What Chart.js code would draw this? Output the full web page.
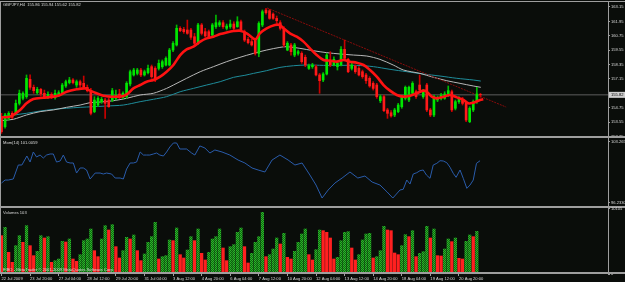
<!DOCTYPE html>
<html>
<head>
<meta charset="utf-8">
<script src="https://cdn.jsdelivr.net/npm/chart.js@4.4.1/dist/chart.umd.min.js"></script>
<style>
  html, body { margin: 0; padding: 0; background: #0a0d0a; }
  #wrap { position: relative; width: 625px; height: 282px; overflow: hidden; background: #0a0d0a; }
  #wrap canvas { position: absolute; left: 0; top: 0; }
</style>
</head>
<body>
<div id="wrap">
  <canvas id="priceChart" width="625" height="282"></canvas>
  <canvas id="momChart" width="625" height="282"></canvas>
  <canvas id="volChart" width="625" height="282"></canvas>
</div>
<script>
// GBPJPY H4 candles, bar 0 = 22 Jul 2009 12:00
const openP = [154.00,153.17,153.86,154.28,154.28,155.11,155.53,155.67,157.11,156.45,
  156.00,156.28,155.95,155.61,155.86,155.58,155.81,155.89,156.56,156.84,
  157.06,156.64,156.92,156.78,156.45,156.17,154.42,154.97,155.25,155.39,
  155.39,155.39,155.53,155.89,155.61,155.67,156.73,157.48,157.61,157.89,
  157.48,157.67,158.17,158.03,158.03,158.17,158.31,158.31,159.56,159.98,
  161.37,161.28,161.23,161.23,160.67,160.12,161.65,161.09,161.09,160.81,
  161.51,161.65,161.84,161.37,161.51,161.73,161.51,161.92,161.09,160.45,
  160.26,160.39,159.28,161.65,162.90,162.84,162.56,162.20,161.84,161.37,
  159.56,159.98,159.14,159.28,159.28,158.95,158.03,158.17,158.17,157.48,
  157.06,157.56,158.73,158.31,158.17,158.31,159.62,158.78,158.03,158.23,
  158.03,157.75,157.48,157.20,156.78,156.64,155.33,155.67,154.56,154.33,
  154.14,154.42,154.83,155.53,155.39,155.95,156.08,156.64,155.67,156.64,
  154.56,154.14,155.39,155.53,155.53,155.81,156.08,154.70,155.25,155.45,
  155.17,153.58,154.56,155.25,155.86];
const highP = [154.28,154.28,154.42,154.42,155.39,156.22,156.08,157.48,157.48,156.64,
  156.45,156.36,156.22,156.08,156.00,156.22,156.17,156.78,157.06,157.28,
  157.17,157.06,157.06,157.39,156.64,156.36,155.67,155.67,155.61,155.53,
  155.53,156.36,156.22,156.28,156.08,156.92,157.89,158.03,158.03,158.03,
  157.89,158.31,158.31,158.17,158.73,158.73,159.00,159.70,160.26,161.65,
  161.51,161.45,162.06,161.37,160.95,161.78,161.78,161.37,161.23,161.78,
  162.48,162.01,162.01,161.73,162.06,161.92,162.34,162.06,161.23,160.62,
  160.45,160.53,161.92,162.90,163.03,162.95,162.67,162.40,162.01,161.51,
  160.26,160.12,160.12,159.56,159.42,159.14,158.39,158.45,158.31,157.61,
  157.67,159.28,159.42,159.00,158.59,159.84,160.39,158.87,158.45,158.31,
  158.17,157.89,157.61,157.34,156.92,156.78,155.81,155.81,154.70,154.50,
  154.70,155.11,155.81,156.56,156.56,156.92,156.22,157.48,156.28,156.78,
  154.70,155.81,155.72,155.95,156.08,156.56,156.22,155.39,155.67,155.61,
  155.25,154.83,155.39,156.45,155.94];
const lowP = [152.61,153.03,153.72,153.83,154.14,154.97,155.39,155.53,156.28,155.95,
  155.86,155.72,155.58,155.50,155.50,155.47,155.67,155.81,156.45,156.73,
  156.73,156.45,156.45,156.34,156.06,154.14,154.33,154.83,155.11,153.86,
  154.78,155.25,155.39,155.50,155.50,155.53,156.56,157.39,157.48,157.34,
  157.39,157.56,157.20,156.92,157.89,158.03,158.23,158.23,159.42,159.89,
  161.09,160.95,160.87,160.45,159.98,160.03,160.81,160.62,160.62,160.73,
  161.37,161.51,161.37,161.23,161.37,161.23,161.45,161.09,160.26,160.06,
  159.89,159.14,159.00,161.51,162.56,162.12,162.12,161.78,161.23,159.84,
  159.50,159.14,159.00,159.14,158.45,158.17,157.95,158.03,157.39,155.95,
  156.92,157.48,158.17,158.23,157.89,158.23,158.73,157.67,157.89,157.61,
  157.39,157.20,156.78,156.45,156.22,155.53,155.17,154.42,153.86,153.95,
  154.00,154.33,154.70,155.39,155.25,155.81,155.53,156.08,155.53,154.42,
  154.00,154.00,155.25,155.39,155.45,155.67,154.42,154.56,155.11,154.97,
  153.58,153.50,154.42,155.11,155.62];
const closeP = [152.75,154.14,154.28,153.95,155.11,155.95,155.95,157.20,156.45,156.17,
  156.28,155.89,155.67,155.86,155.58,155.95,156.00,156.64,156.92,157.06,
  156.84,156.92,156.64,156.45,156.17,154.28,155.39,155.53,155.45,155.11,
  154.83,156.17,155.81,155.61,155.95,156.78,157.75,157.89,157.89,157.48,
  157.75,158.03,157.34,157.06,158.45,158.59,158.87,159.56,160.12,161.37,
  161.17,161.09,160.95,160.62,160.12,161.65,160.95,160.73,160.67,161.65,
  161.84,161.84,161.51,161.56,161.73,161.37,161.92,161.23,160.39,160.17,
  159.98,159.28,161.78,162.76,162.67,162.20,162.20,162.01,161.37,159.98,
  160.12,159.42,159.98,159.42,158.59,158.31,158.25,158.31,157.48,157.00,
  157.56,159.14,158.31,158.78,158.45,159.62,158.87,157.75,158.31,157.75,
  157.48,157.34,157.00,156.56,156.36,155.67,155.67,154.50,154.28,154.06,
  154.56,154.97,155.67,156.45,156.45,156.78,155.67,156.22,156.17,154.56,
  154.14,155.67,155.61,155.81,155.89,156.17,154.56,155.25,155.53,155.11,
  153.72,154.70,155.25,155.89,155.82];

const volumes = [5942,7234,3359,1808,4392,5942,4909,7492,4392,2842,
  3514,5942,5580,5787,1808,2067,2325,5063,4960,5425,
  2325,1963,2997,5167,5425,6975,3617,2687,5425,7492,
  6820,7647,4237,2480,3617,5684,5425,6045,3617,2067,
  3100,4909,5787,8009,2325,2687,2842,5270,5167,7130,
  2997,2480,3720,5787,5167,6975,3204,2170,3359,5425,
  5787,6975,4030,2067,4237,4547,6459,7130,4237,1705,
  3204,4909,5787,9559,2687,2997,3875,5580,4650,6304,
  2584,2325,3514,4909,6200,6975,2997,2170,3772,6820,
  6717,6459,5580,2325,2584,5167,6459,6562,4030,2170,
  2997,5270,6200,6304,2480,2687,3617,7389,6820,6717,
  3255,2997,4392,6097,5787,6717,2687,3204,3462,7389,
  5580,6975,2842,2790,3875,5425,5012,5580,2429,2325,
  5063,6045,5787,6614,103];

// moving averages (bar position, price)
const redMaX = [0,2.4,5.2,7,8.9,11.7,14.5,16.4,18.2,21,23.4,24.8,26.6,28.5,30.4,32.2,34.1,35.5,36.9,38.8,
  40.6,42.5,44.4,46.2,48.1,50,51.8,53.7,55.6,57.4,59.3,61.2,63,64.9,66.7,68.6,71,72.3,74.2,76.5,
  77.9,78.9,80.7,82.6,84.5,86.3,88.2,90.1,91.9,93.8,95.7,97.5,99.4,101.3,103.1,105,106.9,108.7,110.6,112.4,
  114.3,116.2,118,119,120.4,121.8,123.7,125.5,127.4,129.3,130.6,132,133.9,134.8];
const redMaY = [153.95,154.00,154.56,155.11,155.47,155.58,155.67,155.81,156.08,156.28,156.36,156.17,155.95,155.75,155.67,155.67,155.72,155.95,156.36,156.64,
  156.92,157.06,157.34,157.75,158.31,159.14,159.62,159.84,160.26,160.53,160.67,160.89,161.03,161.14,161.17,160.95,160.45,160.95,161.37,161.65,
  161.65,161.37,160.95,160.67,160.26,159.70,159.14,158.73,158.67,158.59,158.73,158.59,158.50,158.31,157.89,157.34,156.64,156.17,155.81,155.67,
  155.75,155.95,156.17,156.08,155.67,155.53,155.67,155.81,155.61,155.39,155.11,155.17,155.39,155.45];
const greyMaX = [0,3.3,7,10.8,14.5,18.2,22,24.8,27.6,31.3,35,38.8,42.5,46.2,48.1,51.8,55.6,59.3,63,66.7,
  70.5,74.2,77.9,79.8,83.5,87.3,91,94.7,98.5,102.2,105.9,109.6,112.5,117.1,120.9,124.6,128.3,132,134.1];
const greyMaY = [153.67,153.78,154.14,154.42,154.56,154.78,154.97,155.17,155.22,155.33,155.53,155.81,155.95,156.36,156.64,157.20,157.75,158.17,158.59,158.95,
  159.28,159.56,159.78,159.84,159.70,159.50,159.34,159.23,159.14,159.06,158.78,158.31,157.89,157.61,157.28,157.00,156.78,156.56,156.45];
const tealMaX = [0,3.3,7,10.8,14.5,18.2,22,25.7,29.4,34.1,38.8,42.5,46.2,50,53.7,57.4,61.2,64.9,68.1,
  70.5,74.2,77.9,81.7,85.4,90.1,94.7,99.4,104.1,108.7,113.4,118,122.7,127.4,132,134.1];
const tealMaY = [154.00,154.14,154.28,154.47,154.61,154.70,154.78,154.83,154.89,154.97,155.25,155.45,155.67,156.08,156.36,156.64,156.92,157.28,157.45,
  157.61,157.84,158.11,158.25,158.31,158.28,158.28,158.28,158.17,157.95,157.75,157.56,157.39,157.20,157.06,156.97];
const trendX = [74.3, 141.2];
const trendY = [163.07, 154.80];
const lastClose = 155.82;

// Momentum(14)
const momX = [0,1,1.9,3.3,4.7,5.7,7.1,8,8.9,9.8,10.8,11.7,12.6,13.6,14.5,15.4,16.4,17.3,18.2,19.2,
  20.1,21,22,22.9,23.8,24.8,26.2,27.6,28.5,29.4,30.8,31.8,33.2,34.1,35,36,36.9,37.8,38.8,39.7,
  40.6,41.5,42.5,43.4,44.3,45.3,46.2,47.1,48.1,49,49.9,51.8,53.2,54.1,55.5,56.9,58.3,
  59.7,61.7,63.9,66.2,68.1,70.1,71.8,73.7,75.7,77.9,80.2,82.1,84.1,86.3,88,89.7,91.4,93.3,95.3,97.5,
  99.7,101.7,103.7,105.9,107.9,109.5,111.5,112.4,113.4,114.3,115.2,116.2,117.1,118,118.9,119.9,120.8,
  121.8,122.7,123.6,124.6,125.5,126.4,127.2,128.3,129.2,130.2,131.1,132,132.9,133.9];
const momY = [98.52,98.86,98.86,98.98,100.58,100.58,101.61,100.92,102.07,101.50,101.72,101.38,101.72,101.84,101.84,100.92,101.04,101.72,100.92,100.81,
  100.81,99.66,100.24,100.24,100.01,98.98,99.66,99.66,99.55,99.66,99.55,99.09,99.09,98.98,100.12,100.81,100.81,100.92,102.07,101.72,
  101.72,101.72,101.84,101.95,101.72,101.61,102.07,102.64,103.10,103.10,102.41,102.41,101.95,101.72,102.76,102.53,101.95,
  102.30,102.07,101.72,101.15,100.81,100.24,100.01,99.78,101.15,101.72,101.15,100.58,100.81,99.43,98.29,96.80,97.72,98.52,99.09,99.78,
  99.09,99.32,98.63,98.29,97.49,96.80,97.72,97.80,98.86,98.40,99.55,99.70,99.93,100.01,99.43,99.06,100.58,
  100.77,101.07,101.04,100.84,100.32,99.63,99.17,100.01,99.06,97.91,98.29,98.86,100.77,101.07];

// axis labels
const priceTicks = [163.15,161.95,160.75,159.55,158.35,157.15,154.75,153.55,152.35];
const momTicks = [103.2657, 96.2330];
const volTicks = [10105, 0];
const tickBars = [0,8,16,24,32,40,48,56,64,72,80,88,96,104,112,120,128];
const tickLabels = ["22 Jul 2009","23 Jul 20:00","27 Jul 04:00","28 Jul 12:00","29 Jul 20:00","31 Jul 04:00",
  "3 Aug 12:00","4 Aug 20:00","6 Aug 04:00","7 Aug 12:00","10 Aug 20:00","12 Aug 04:00","13 Aug 12:00",
  "14 Aug 20:00","18 Aug 04:00","19 Aug 12:00","20 Aug 20:00"];

const X_MIN = -0.42, X_MAX = 169.7;
const FONT = { family: "Liberation Sans", size: 4.1 };
const TXT = "#dadada";

const framePlugin = {
  id: "frame",
  afterDraw(chart, args, opts) {
    const { ctx, chartArea: a } = chart;
    ctx.save();
    ctx.fillStyle = "#9e9e9e";
    if (opts.top) ctx.fillRect(0, a.top, chart.width, 1);
    ctx.fillRect(0, a.bottom - 2, chart.width, 2);
    ctx.fillRect(a.right, a.top, 1, a.bottom - a.top);
    ctx.fillRect(0, a.top, 1, a.bottom - a.top);
    ctx.font = FONT.size + 'px "' + FONT.family + '"';
    ctx.textBaseline = "middle";
    if (opts.priceBox !== undefined) {
      const py = chart.scales.y.getPixelForValue(opts.priceBox);
      ctx.fillStyle = "#cfcfcf";
      ctx.fillRect(a.right + 1, py - 3, 16, 6);
      ctx.fillStyle = "#000000";
      ctx.fillText(opts.priceBox.toFixed(2), a.right + 3, py + 0.3);
    }
    (opts.texts || []).forEach((t) => {
      ctx.fillStyle = TXT;
      ctx.fillText(t.text, t.x, t.y);
    });
    ctx.restore();
  },
};

const xAxis = function (show) {
  return {
    type: "linear",
    min: X_MIN,
    max: X_MAX,
    offset: false,
    display: show,
    afterBuildTicks: (s) => { s.ticks = tickBars.map((v) => ({ value: v })); },
    afterFit: (s) => {
      s.height = show ? 8 : 0;
      s.paddingLeft = 0;
      s.paddingRight = 0;
    },
    ticks: {
      callback: (v, i) => tickLabels[i],
      align: "start",
      autoSkip: false,
      maxRotation: 0,
      padding: 0.5,
      font: FONT,
      color: TXT,
    },
    grid: { drawOnChartArea: false, tickLength: 2, color: "#9e9e9e", offset: false },
    border: { display: false },
  };
};

const yAxis = function (min, max, ticks, fmt) {
  return {
    position: "right",
    min: min,
    max: max,
    afterBuildTicks: (s) => { s.ticks = ticks.map((v) => ({ value: v })); },
    afterFit: (s) => { s.width = 17; s.paddingTop = 0; s.paddingBottom = 0; },
    ticks: { callback: fmt, font: FONT, color: TXT, padding: 1, autoSkip: false },
    grid: { drawOnChartArea: false, tickLength: 2, color: "#9e9e9e" },
    border: { display: false },
  };
};

const pts = (xs, ys) => xs.map((x, i) => ({ x: x, y: ys[i] }));
const isUp = (i) => closeP[i] >= openP[i];

document.addEventListener("DOMContentLoaded", function () {
  // price pane
  new Chart(document.getElementById("priceChart"), {
    type: "bar",
    data: {
      datasets: [
        {
          type: "line",
          data: [{ x: X_MIN, y: lastClose }, { x: X_MAX, y: lastClose }],
          borderColor: "#5e5e5e",
          borderWidth: 1,
          pointRadius: 0,
          order: 20,
        },
        {
          type: "line",
          data: pts(tealMaX, tealMaY),
          borderColor: "#1f8d9b",
          borderWidth: 1,
          pointRadius: 0,
          tension: 0.3,
          order: 15,
        },
        {
          type: "line",
          data: pts(greyMaX, greyMaY),
          borderColor: "#b8b8b8",
          borderWidth: 1,
          pointRadius: 0,
          tension: 0.3,
          order: 14,
        },
        {
          type: "line",
          data: pts(trendX, trendY),
          borderColor: "#8a0c0c",
          borderWidth: 1,
          borderDash: [2, 1],
          pointRadius: 0,
          order: 13,
        },
        {
          data: openP.map((o, i) => ({ x: i, y: [lowP[i], highP[i]] })),
          backgroundColor: openP.map((o, i) => (isUp(i) ? "#00b800" : "#c80000")),
          barThickness: 1,
          grouped: false,
          order: 12,
        },
        {
          data: openP.map((o, i) => ({ x: i, y: [o, closeP[i]] })),
          backgroundColor: openP.map((o, i) => (isUp(i) ? "#00e600" : "#ff1a1a")),
          barThickness: 2,
          grouped: false,
          order: 11,
        },
        {
          type: "line",
          data: pts(redMaX, redMaY),
          borderColor: "#ff1212",
          borderWidth: 2.6,
          pointRadius: 0,
          tension: 0.3,
          order: 1,
        },
      ],
    },
    options: {
      responsive: false,
      animation: false,
      layout: { padding: { top: 1, bottom: 144, left: 0, right: 0 } },
      plugins: {
        legend: { display: false },
        tooltip: { enabled: false },
        frame: {
          top: true,
          priceBox: lastClose,
          texts: [{ text: "GBPJPY,H4  155.86 155.94 155.62 155.82", x: 3, y: 5 }],
        },
      },
      scales: {
        x: xAxis(false),
        y: yAxis(152.22, 163.65, priceTicks, (v) => v.toFixed(2)),
      },
    },
    plugins: [framePlugin],
  });

  // momentum pane
  new Chart(document.getElementById("momChart"), {
    type: "line",
    data: {
      datasets: [
        {
          data: pts(momX, momY),
          borderColor: "#2a5cab",
          borderWidth: 1,
          pointRadius: 0,
          tension: 0,
        },
      ],
    },
    options: {
      responsive: false,
      animation: false,
      layout: { padding: { top: 138, bottom: 74, left: 0, right: 0 } },
      plugins: {
        legend: { display: false },
        tooltip: { enabled: false },
        frame: { texts: [{ text: "Mom(14) 101.0059", x: 3, y: 142.5 }] },
      },
      scales: {
        x: xAxis(false),
        y: yAxis(95.66, 103.67, momTicks, (v) => v.toFixed(4)),
      },
    },
    plugins: [framePlugin],
  });

  // volume pane, green when volume rises
  const pc = document.createElement("canvas");
  pc.width = 2;
  pc.height = 2;
  const pctx = pc.getContext("2d");
  pctx.fillStyle = "#0b6f0b";
  pctx.fillRect(0, 0, 2, 2);
  pctx.fillStyle = "#2fae2f";
  pctx.fillRect(0, 0, 1, 1);
  pctx.fillRect(1, 1, 1, 1);
  const greenPat = pctx.createPattern(pc, "repeat");

  new Chart(document.getElementById("volChart"), {
    type: "bar",
    data: {
      datasets: [
        {
          data: volumes.map((v, i) => ({ x: i, y: v })),
          backgroundColor: volumes.map((v, i) => (i > 0 && v > volumes[i - 1] ? greenPat : "#ff2020")),
          barThickness: 2.6,
          grouped: false,
        },
      ],
    },
    options: {
      responsive: false,
      animation: false,
      layout: { padding: { top: 208, bottom: 0, left: 0, right: 0 } },
      plugins: {
        legend: { display: false },
        tooltip: { enabled: false },
        frame: {
          texts: [
            { text: "Volumes 103", x: 3, y: 212.5 },
            { text: "FIBO - MetaTrader \u00a9 2001-2009 MetaQuotes Software Corp.", x: 3, y: 269.5 },
          ],
        },
      },
      scales: {
        x: xAxis(true),
        y: yAxis(0, 10230, volTicks, (v) => String(v)),
      },
    },
    plugins: [framePlugin],
  });
});
</script>
</body>
</html>
